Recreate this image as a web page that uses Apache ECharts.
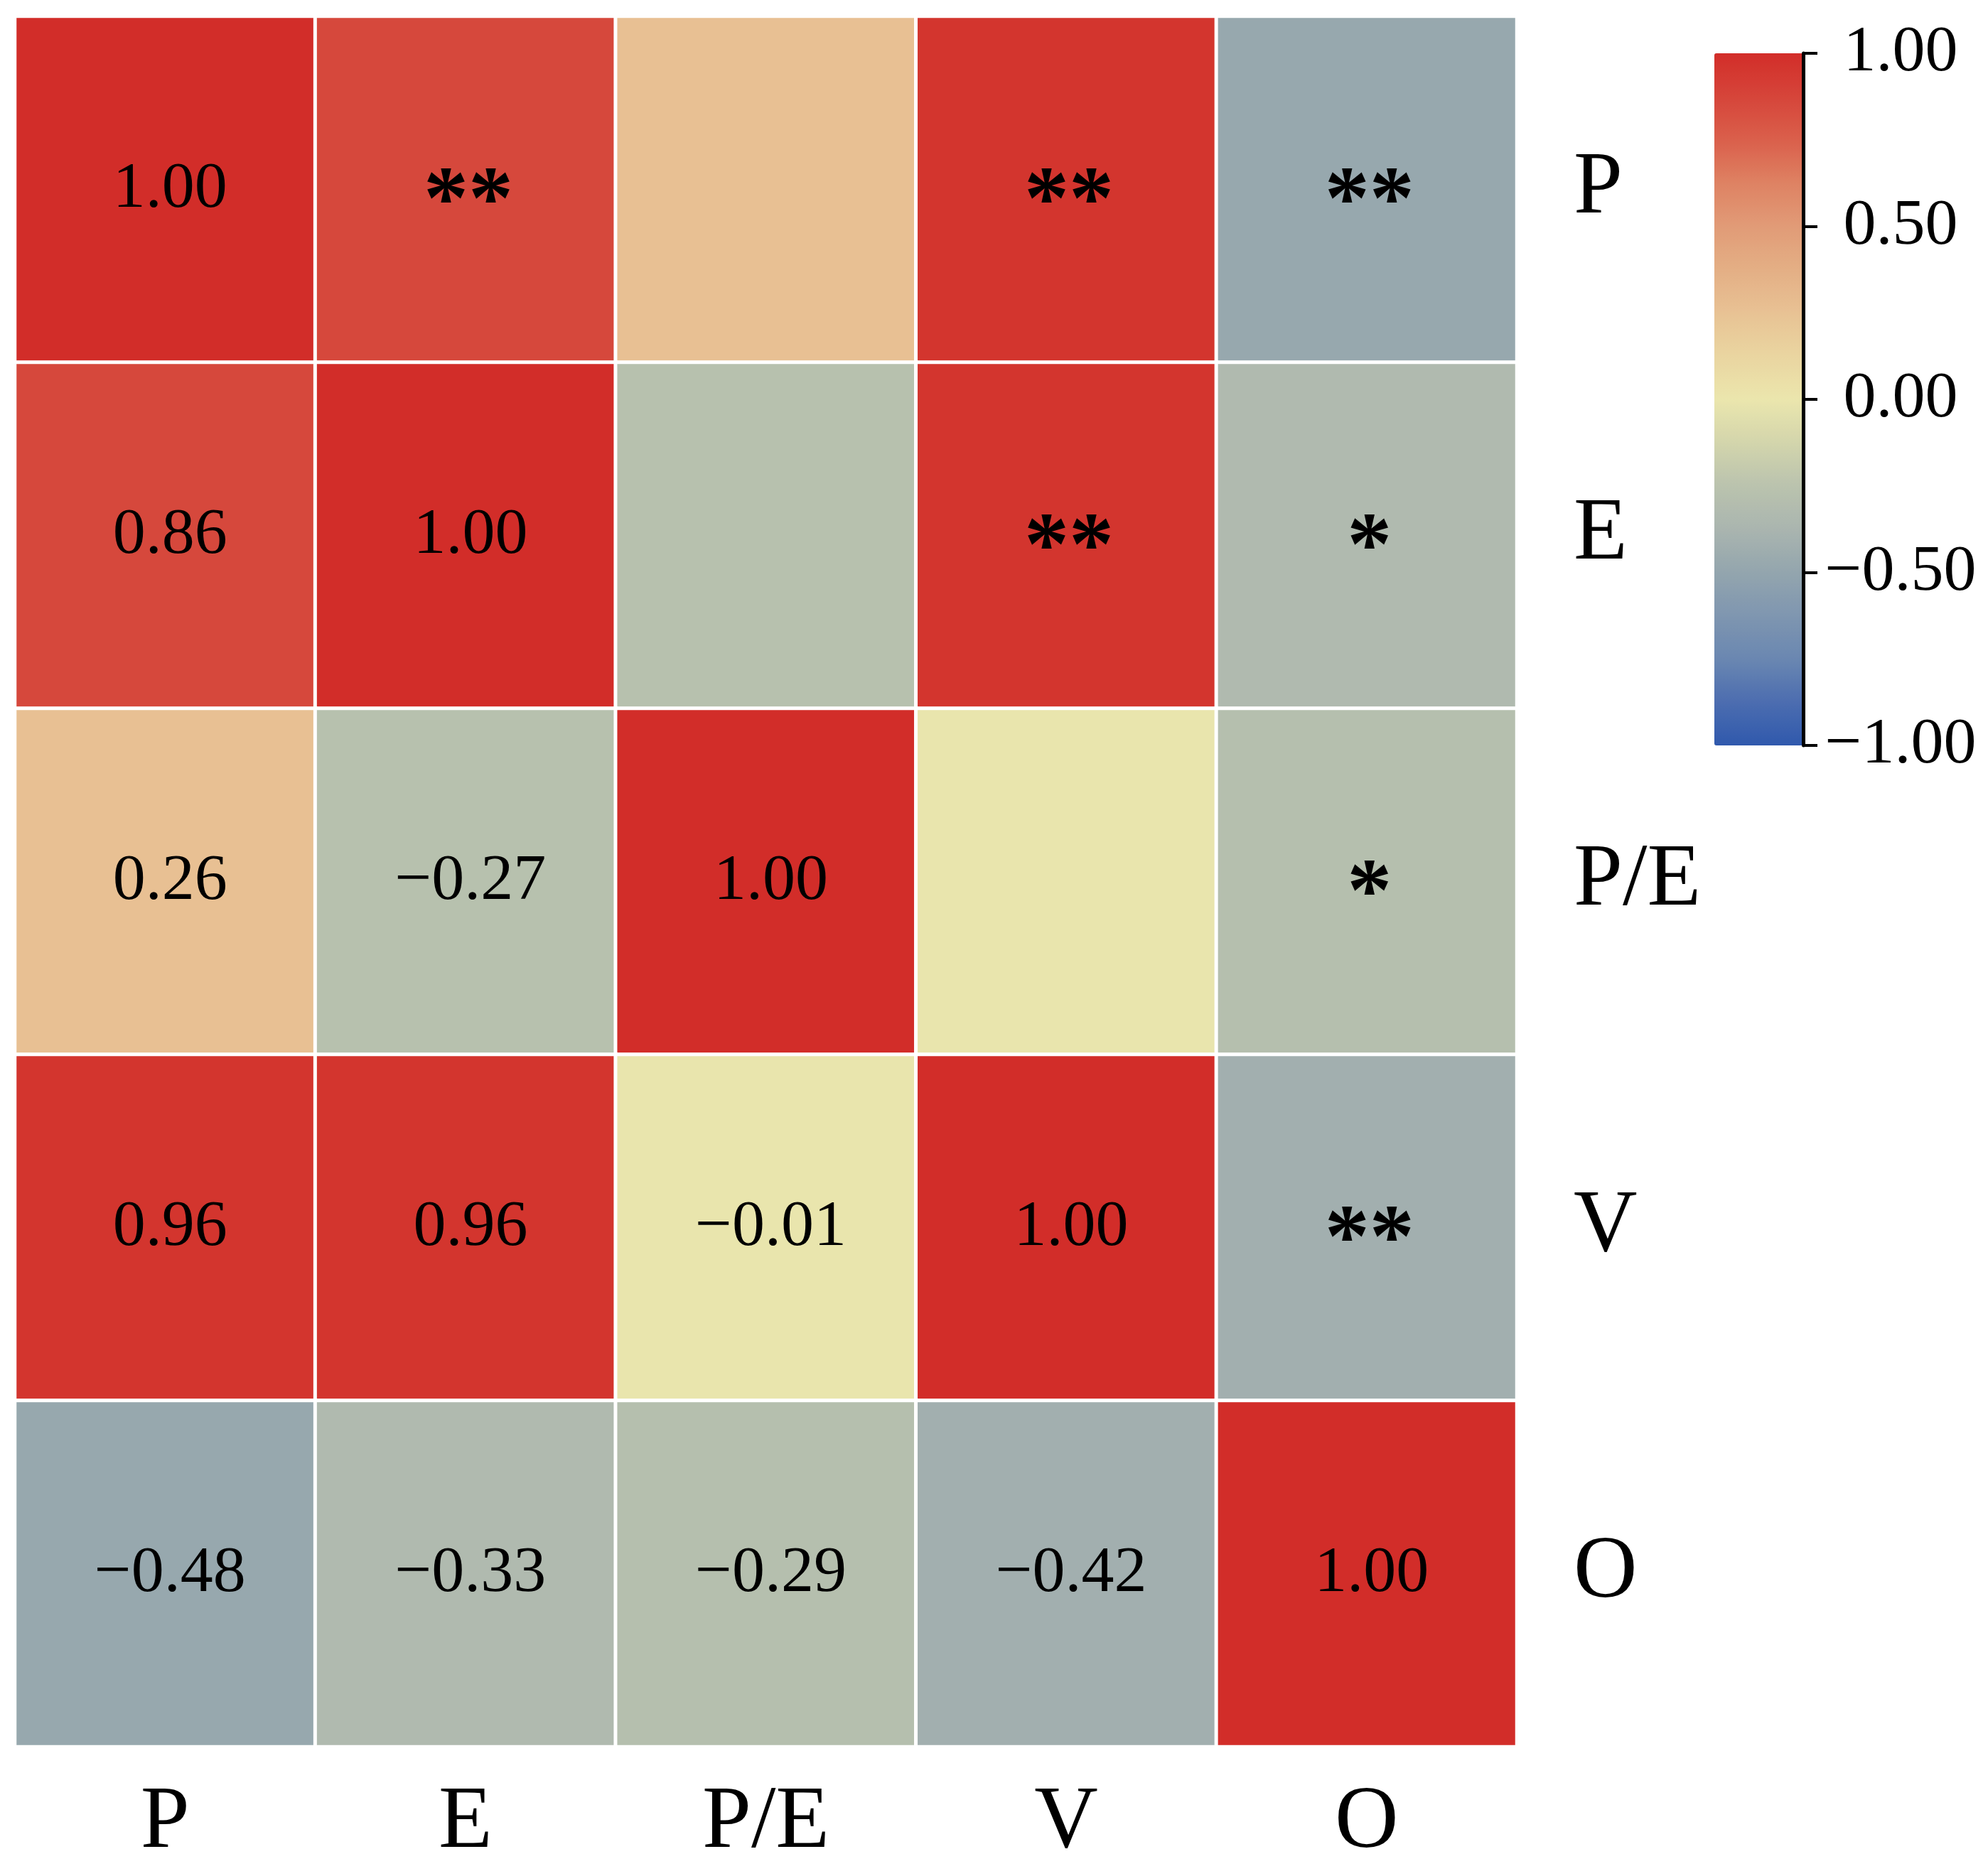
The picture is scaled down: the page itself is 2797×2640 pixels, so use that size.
<!DOCTYPE html>
<html>
<head>
<meta charset="utf-8">
<title>Correlation heatmap</title>
<script src="https://cdn.jsdelivr.net/npm/echarts@6/dist/echarts.min.js"></script>
<style>
  html, body { margin: 0; padding: 0; background: #fff; }
  #chart { width: 2797px; height: 2640px; }
</style>
</head>
<body>
<div id="chart"></div>
<script>
// variables (columns left->right, rows top->bottom)
const vars = ['P', 'E', 'P/E', 'V', 'O']

// correlation matrix, one row per variable
const rowP = [1.00, 0.86, 0.26, 0.96, -0.48]
const rowE = [0.86, 1.00, -0.27, 0.96, -0.33]
const rowPE = [0.26, -0.27, 1.00, -0.01, -0.29]
const rowV = [0.96, 0.96, -0.01, 1.00, -0.42]
const rowO = [-0.48, -0.33, -0.29, -0.42, 1.00]
const corr = [rowP, rowE, rowPE, rowV, rowO]

// significance marks shown in the upper triangle
const starsP = ['', '**', '', '**', '**']
const starsE = ['', '', '', '**', '*']
const starsPE = ['', '', '', '', '*']
const starsV = ['', '', '', '', '**']
const starsO = ['', '', '', '', '']
const stars = [starsP, starsE, starsPE, starsV, starsO]

// colorbar ticks
const cbMin = -1
const cbMax = 1
const cbStep = 0.5

// colour ramp, evenly spaced from -1 to 1
const ramp = ['#3059AD', '#4C6DB0', '#6A87B1', '#7F96B0', '#93A5AE', '#AAB5AF', '#BAC3AE', '#D3D5AC',
  '#EBE6AD', '#EAD5A0', '#E8C294', '#E4AF85', '#E19B77', '#DE8263', '#DA5F4B', '#D6453A', '#D22D29']

const font = 'Liberation Serif'

function fmt (v) {
  return (v < 0 ? '\u2212' : '') + Math.abs(v).toFixed(2)
}

let data = []
corr.forEach((row, r) => {
  row.forEach((v, c) => {
    if (c > r) {
      data.push({
        value: [c, r, v],
        label: { formatter: stars[r][c], fontSize: 126, fontWeight: 'bold', offset: [4, 22] }
      })
    } else {
      data.push({ value: [c, r, v], label: { formatter: fmt(v) } })
    }
  })
})

let chart = echarts.init(document.getElementById('chart'))
let options = {
  animation: false,
  textStyle: { fontFamily: font },
  grid: [
    { left: 21, top: 23, width: 2113, height: 2435 },
    { left: 2412, top: 75, width: 125, height: 974 }
  ],
  xAxis: [
    {
      type: 'category',
      gridIndex: 0,
      data: vars,
      position: 'bottom',
      axisLine: { show: false },
      axisTick: { show: false },
      splitLine: { show: false },
      axisLabel: { fontFamily: font, fontSize: 124, color: '#000', margin: 46 }
    },
    { type: 'value', gridIndex: 1, show: false, min: 0, max: 1 }
  ],
  yAxis: [
    {
      type: 'category',
      gridIndex: 0,
      data: vars,
      inverse: true,
      position: 'right',
      axisLine: { show: false },
      axisTick: { show: false },
      splitLine: { show: false },
      axisLabel: { fontFamily: font, fontSize: 124, color: '#000', margin: 80, align: 'left' }
    },
    {
      type: 'value',
      gridIndex: 1,
      position: 'right',
      min: cbMin,
      max: cbMax,
      interval: cbStep,
      z: 10,
      axisLine: { show: true, onZero: false, lineStyle: { color: '#000', width: 5 } },
      axisTick: { show: true, length: 20, lineStyle: { color: '#000', width: 4 } },
      splitLine: { show: false },
      axisLabel: {
        fontFamily: font,
        fontSize: 92,
        color: '#000',
        align: 'center',
        margin: 137,
        formatter: v => fmt(v)
      }
    }
  ],
  visualMap: {
    type: 'continuous',
    seriesIndex: 0,
    min: cbMin,
    max: cbMax,
    calculable: false,
    hoverLink: false,
    orient: 'vertical',
    left: 2412,
    top: 75,
    padding: 0,
    itemWidth: 125,
    itemHeight: 974,
    text: null,
    showLabel: false,
    inRange: { color: ramp }
  },
  series: [
    {
      type: 'heatmap',
      xAxisIndex: 0,
      yAxisIndex: 0,
      data: data,
      itemStyle: { borderColor: '#fff', borderWidth: 5 },
      label: {
        show: true,
        fontFamily: font,
        fontSize: 92,
        color: '#000',
        offset: [7, 0]
      },
      emphasis: { disabled: true }
    }
  ]
}
chart.setOption(options)
</script>
</body>
</html>
